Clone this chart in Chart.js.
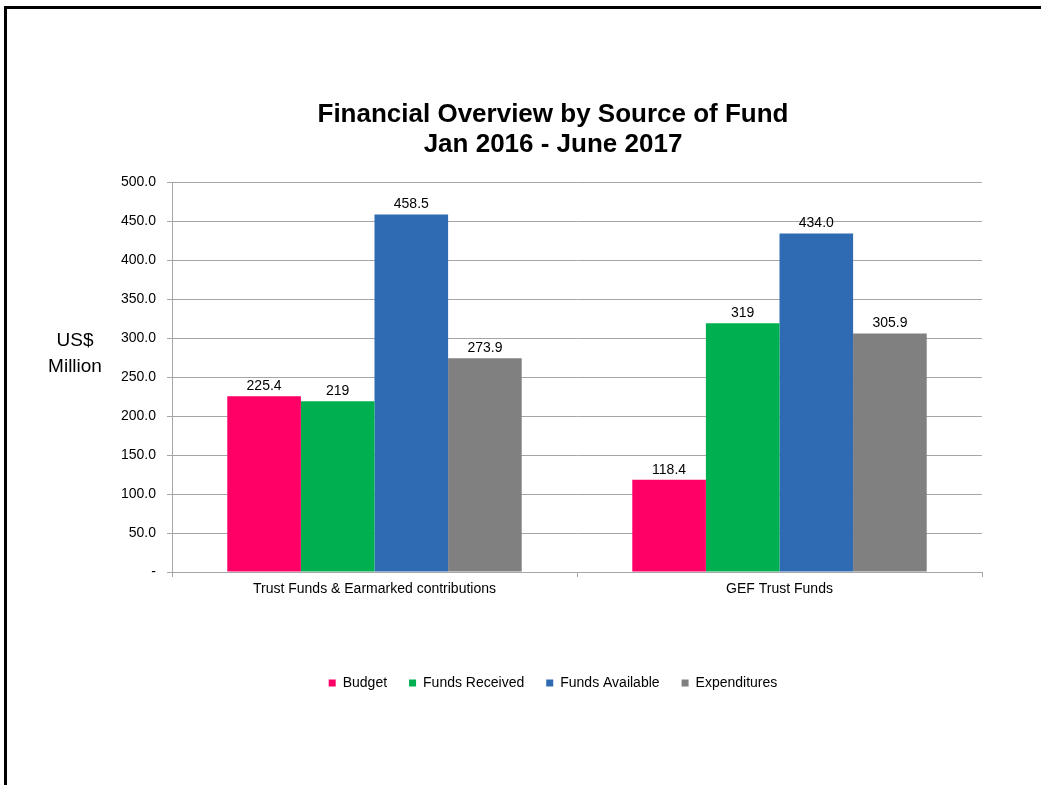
<!DOCTYPE html>
<html lang="en">
<head>
<meta charset="utf-8"/>
<title>Financial Overview by Source of Fund</title>
<script src="https://cdn.jsdelivr.net/npm/chart.js"></script>
<style>
  html, body { margin: 0; padding: 0; background: #fff; }
  body { width: 1041px; height: 785px; position: relative; overflow: hidden; }
  .frame { position: absolute; left: 4px; top: 6px; width: 1100px; height: 900px; border: 3px solid #000; box-sizing: border-box; }
  #wrap { position: absolute; left: 0; top: 0; width: 1041px; height: 785px; }
</style>
</head>
<body>
<div class="frame"></div>
<div id="wrap"><canvas id="fund-chart"></canvas></div>
<script>
  const categories = ['Trust Funds & Earmarked contributions', 'GEF Trust Funds'];
  const budget = [225.4, 118.4];
  const fundsReceived = [219, 319];
  const fundsAvailable = [458.5, 434.0];
  const expenditures = [273.9, 305.9];
  // labels as printed on the original (some have no decimal)
  const budgetLabels = ['225.4', '118.4'];
  const receivedLabels = ['219', '319'];
  const availableLabels = ['458.5', '434.0'];
  const expendLabels = ['273.9', '305.9'];
  const yTicks = [0, 50, 100, 150, 200, 250, 300, 350, 400, 450, 500];

  const font = 'Liberation Sans, Arial, sans-serif';

  const barLabels = {
    id: 'barLabels',
    afterDatasetsDraw(chart) {
      const ctx = chart.ctx;
      ctx.save();
      ctx.font = '14px ' + font;
      ctx.fillStyle = '#000';
      ctx.textAlign = 'center';
      ctx.textBaseline = 'middle';
      chart.data.datasets.forEach((ds, i) => {
        chart.getDatasetMeta(i).data.forEach((bar, j) => {
          ctx.fillText(ds.valueLabels[j], bar.x, bar.y - 10);
        });
      });
      ctx.restore();
    }
  };

  const yTitle = {
    id: 'yTitle',
    afterDraw(chart) {
      const ctx = chart.ctx;
      const area = chart.chartArea;
      ctx.save();
      ctx.font = '19px ' + font;
      ctx.fillStyle = '#000';
      ctx.textAlign = 'center';
      ctx.textBaseline = 'middle';
      const cx = area.left - 97;
      const cy = (area.top + area.bottom) / 2;
      ctx.fillText('US$', cx, cy - 36);
      ctx.fillText('Million', cx, cy - 10);
      ctx.restore();
    }
  };

  new Chart(document.getElementById('fund-chart'), {
    type: 'bar',
    data: {
      labels: categories,
      datasets: [
        { label: 'Budget', data: budget, valueLabels: budgetLabels, backgroundColor: '#FF0066' },
        { label: 'Funds Received', data: fundsReceived, valueLabels: receivedLabels, backgroundColor: '#00B050' },
        { label: 'Funds Available', data: fundsAvailable, valueLabels: availableLabels, backgroundColor: '#2E6BB3' },
        { label: 'Expenditures', data: expenditures, valueLabels: expendLabels, backgroundColor: '#808080' }
      ]
    },
    options: {
      responsive: true,
      maintainAspectRatio: false,
      animation: false,
      datasets: { bar: { categoryPercentage: 0.727, barPercentage: 1.0, borderWidth: 0 } },
      layout: { padding: { left: 65, right: 0, top: 100, bottom: 85 } },
      plugins: {
        title: {
          display: true,
          text: ['Financial Overview by Source of Fund', 'Jan 2016 - June 2017'],
          color: '#000',
          font: { family: font, size: 26, weight: 'bold', lineHeight: 1.154 },
          padding: { top: 0, bottom: 22 }
        },
        legend: {
          position: 'bottom',
          labels: {
            color: '#000',
            font: { family: font, size: 14 },
            boxWidth: 7,
            boxHeight: 7,
            padding: 22
          }
        },
        tooltip: { enabled: false }
      },
      scales: {
        x: {
          grid: { display: true, drawOnChartArea: false, drawTicks: true, tickLength: 5, offset: true, color: '#a6a6a6' },
          border: { color: '#a6a6a6', width: 1 },
          ticks: { color: '#000', font: { family: font, size: 14 }, padding: 4, maxRotation: 0 },
          afterFit: s => { s.height = 82; }
        },
        y: {
          min: 0,
          max: 500,
          afterBuildTicks: s => { s.ticks = yTicks.map(v => ({ value: v })); },
          grid: { color: '#a6a6a6', tickLength: 5 },
          border: { color: '#a6a6a6', width: 1 },
          ticks: {
            color: '#000',
            font: { family: font, size: 14 },
            padding: 11,
            callback: v => v === 0 ? '-' : v.toFixed(1)
          },
          afterFit: s => { s.width = 107; }
        },
        y2: {
          position: 'right',
          display: true,
          grid: { display: false },
          border: { display: false },
          ticks: { display: false },
          afterFit: s => { s.width = 59; }
        }
      }
    },
    plugins: [barLabels, yTitle]
  });
</script>
</body>
</html>
